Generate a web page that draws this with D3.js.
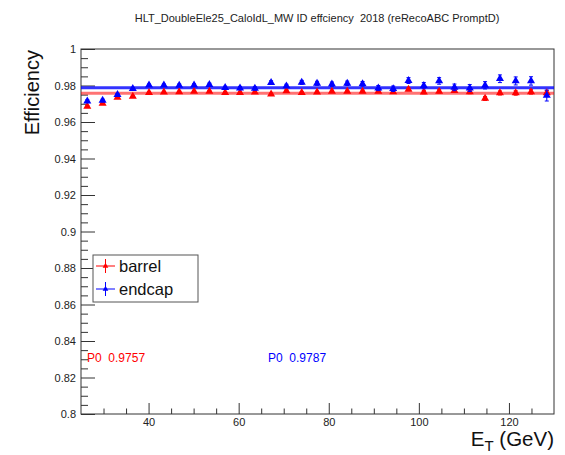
<!DOCTYPE html>
<html>
<head>
<meta charset="utf-8">
<script src="https://cdn.jsdelivr.net/npm/d3@7"></script>
<style>
  html, body { margin: 0; padding: 0; background: #fff; }
  svg { display: block; font-family: "Liberation Sans", Arial, Helvetica, sans-serif; }
  svg text { white-space: pre; }
</style>
</head>
<body>
<svg id="chart" width="565" height="455"></svg>
<script>
// ---------------- data ----------------
const chartTitle = "HLT_DoubleEle25_CaloIdL_MW ID effciency  2018 (reRecoABC PromptD)";
const etValues = [26.4, 29.8, 33.1, 36.5, 40.1, 43.4, 46.8, 50.1, 53.5, 57.0,
                  60.3, 63.6, 67.2, 70.6, 74.0, 77.4, 80.7, 84.1, 87.5, 91.0,
                  94.3, 97.7, 101.1, 104.5, 107.9, 111.3, 114.7, 118.0, 121.5, 124.9, 128.4];
const barrelEff = [0.9685, 0.9702, 0.9734, 0.9740, 0.9761, 0.9764, 0.9765, 0.9768, 0.9768, 0.9761,
                   0.9761, 0.9763, 0.9752, 0.9770, 0.9761, 0.9763, 0.9768, 0.9768, 0.9768, 0.9768,
                   0.9765, 0.9779, 0.9764, 0.9768, 0.9772, 0.9765, 0.9729, 0.9759, 0.9759, 0.9765, 0.9759];
const barrelErr = [0.0006, 0.0005, 0.0004, 0.0004, 0.0004, 0.0004, 0.0004, 0.0004, 0.0004, 0.0004,
                   0.0005, 0.0005, 0.0005, 0.0005, 0.0005, 0.0006, 0.0006, 0.0006, 0.0007, 0.0007,
                   0.0008, 0.0008, 0.0009, 0.0009, 0.0010, 0.0010, 0.0011, 0.0011, 0.0012, 0.0012, 0.0014];
const endcapEff = [0.9714, 0.9718, 0.9750, 0.9783, 0.9802, 0.9802, 0.9801, 0.9802, 0.9805, 0.9788,
                   0.9786, 0.9784, 0.9816, 0.9797, 0.9817, 0.9812, 0.9807, 0.9812, 0.9809, 0.9786,
                   0.9782, 0.9827, 0.9799, 0.9825, 0.9790, 0.9786, 0.9801, 0.9837, 0.9825, 0.9825, 0.9745];
const endcapErr = [0.0008, 0.0007, 0.0006, 0.0006, 0.0006, 0.0006, 0.0007, 0.0007, 0.0008, 0.0008,
                   0.0009, 0.0009, 0.0010, 0.0010, 0.0011, 0.0011, 0.0012, 0.0012, 0.0013, 0.0014,
                   0.0015, 0.0016, 0.0017, 0.0018, 0.0018, 0.0019, 0.0020, 0.0021, 0.0022, 0.0023, 0.0030];
const fitP0 = { barrel: 0.9757, endcap: 0.9787 };
const seriesNames = ["barrel", "endcap"];
const xMajorTicks = [40, 60, 80, 100, 120];
const xTickLabels = ["40", "60", "80", "100", "120"];
const yMajorTicks = [0.8, 0.82, 0.84, 0.86, 0.88, 0.9, 0.92, 0.94, 0.96, 0.98, 1];
const yTickLabels = ["0.8", "0.82", "0.84", "0.86", "0.88", "0.9", "0.92", "0.94", "0.96", "0.98", "1"];
const xDomain = [25, 130];
const yDomain = [0.8, 1];

// ---------------- layout ----------------
const svg = d3.select("#chart");
const L = 81, R = 554, T = 49, B = 414;
const x = d3.scaleLinear().domain(xDomain).range([L, R]);
const y = d3.scaleLinear().domain(yDomain).range([B, T]);
const colors = { barrel: "#ff0000", endcap: "#0000ff" };
const axisColor = "#333";

// title
svg.append("text")
  .attr("x", 317).attr("y", 22)
  .attr("text-anchor", "middle")
  .attr("font-size", 11).attr("fill", "#222")
  .text(chartTitle);

// axes
const xMinor = d3.range(30, 130, 5).filter(v => !xMajorTicks.includes(v));
const yMinor = d3.range(0, 41).map(i => +(0.8 + i * 0.005).toFixed(3)).filter(v => !yMajorTicks.some(t => Math.abs(t - v) < 1e-9));

const gx = svg.append("g").attr("transform", `translate(0,${B})`)
  .call(d3.axisBottom(x).tickValues(xMajorTicks).tickSize(-11).tickPadding(4)
        .tickFormat((d, i) => xTickLabels[i]));
const gxm = svg.append("g").attr("transform", `translate(0,${B})`)
  .call(d3.axisBottom(x).tickValues(xMinor).tickSize(-5.5).tickFormat(""));
const gy = svg.append("g").attr("transform", `translate(${L},0)`)
  .call(d3.axisLeft(y).tickValues(yMajorTicks).tickSize(-14).tickPadding(5)
        .tickFormat((d, i) => yTickLabels[i]));
const gym = svg.append("g").attr("transform", `translate(${L},0)`)
  .call(d3.axisLeft(y).tickValues(yMinor).tickSize(-7).tickFormat(""));

[gx, gxm, gy, gym].forEach(g => {
  g.select(".domain").remove();
  g.selectAll("line").attr("stroke", axisColor).attr("stroke-width", 1);
  g.selectAll("text").attr("font-size", 11).attr("fill", "#222")
    .attr("font-family", "Liberation Sans, Arial, sans-serif");
});

// frame
svg.append("rect")
  .attr("x", L).attr("y", T).attr("width", R - L).attr("height", B - T)
  .attr("fill", "none").attr("stroke", axisColor).attr("stroke-width", 1);

// clip
svg.append("clipPath").attr("id", "clip").append("rect")
  .attr("x", L).attr("y", T).attr("width", R - L).attr("height", B - T);
const plot = svg.append("g").attr("clip-path", "url(#clip)");

// fit lines
seriesNames.forEach(s => {
  plot.append("line")
    .attr("x1", x(xDomain[0])).attr("x2", x(xDomain[1]))
    .attr("y1", y(fitP0[s])).attr("y2", y(fitP0[s]))
    .attr("stroke", colors[s]).attr("stroke-width", 3)
    .attr("stroke-opacity", s === "barrel" ? 0.55 : 0.8);
});

// points
const tri = d3.symbol().type(d3.symbolTriangle).size(28);
const series = {
  barrel: { vals: barrelEff, errs: barrelErr },
  endcap: { vals: endcapEff, errs: endcapErr }
};
seriesNames.forEach(s => {
  const data = etValues.map((e, i) => ({ e, v: series[s].vals[i], err: series[s].errs[i] }));
  const g = plot.append("g");
  g.selectAll("line.err").data(data).join("line")
    .attr("x1", d => x(d.e)).attr("x2", d => x(d.e))
    .attr("y1", d => y(d.v - d.err)).attr("y2", d => y(d.v + d.err))
    .attr("stroke", colors[s]).attr("stroke-width", 1);
  ["lo", "hi"].forEach(k => {
    g.selectAll("line.cap" + k).data(data).join("line")
      .attr("x1", d => x(d.e) - 2).attr("x2", d => x(d.e) + 2)
      .attr("y1", d => y(k === "lo" ? d.v - d.err : d.v + d.err))
      .attr("y2", d => y(k === "lo" ? d.v - d.err : d.v + d.err))
      .attr("stroke", colors[s]).attr("stroke-width", 1);
  });
  g.selectAll("path").data(data).join("path")
    .attr("d", tri)
    .attr("transform", d => `translate(${x(d.e)},${y(d.v)})`)
    .attr("fill", colors[s]);
});

// fit result texts
svg.append("text").attr("x", 87).attr("y", 361.5).attr("font-size", 12)
  .attr("fill", colors.barrel).text(`P0  ${fitP0.barrel}`);
svg.append("text").attr("x", 268).attr("y", 361.5).attr("font-size", 12)
  .attr("fill", colors.endcap).text(`P0  ${fitP0.endcap}`);

// legend
const lg = svg.append("g");
lg.append("rect").attr("x", 93).attr("y", 255).attr("width", 105).attr("height", 47)
  .attr("fill", "#fff").attr("stroke", "#555").attr("stroke-width", 1);
seriesNames.forEach((s, i) => {
  const cy = 266 + i * 23;
  lg.append("line").attr("x1", 96).attr("x2", 115).attr("y1", cy).attr("y2", cy)
    .attr("stroke", colors[s]).attr("stroke-width", 1);
  lg.append("line").attr("x1", 105.5).attr("x2", 105.5).attr("y1", cy - 7).attr("y2", cy + 7)
    .attr("stroke", colors[s]).attr("stroke-width", 1);
  lg.append("path").attr("d", d3.symbol().type(d3.symbolTriangle).size(14))
    .attr("transform", `translate(105.5,${cy})`).attr("fill", colors[s]);
  lg.append("text").attr("x", 119).attr("y", cy + 5.5).attr("font-size", 16.5)
    .attr("fill", "#111").text(s);
});

// axis titles
svg.append("text")
  .attr("transform", `translate(39,${T + 1}) rotate(-90)`)
  .attr("text-anchor", "end").attr("font-size", 20).attr("fill", "#111")
  .text("Efficiency");

const xt = svg.append("text").attr("x", R).attr("y", 446)
  .attr("text-anchor", "end").attr("font-size", 20.5).attr("fill", "#111");
xt.append("tspan").text("E");
xt.append("tspan").attr("font-size", 15).attr("dy", 5).text("T");
xt.append("tspan").attr("dy", -5).text(" (GeV)");
</script>
</body>
</html>
